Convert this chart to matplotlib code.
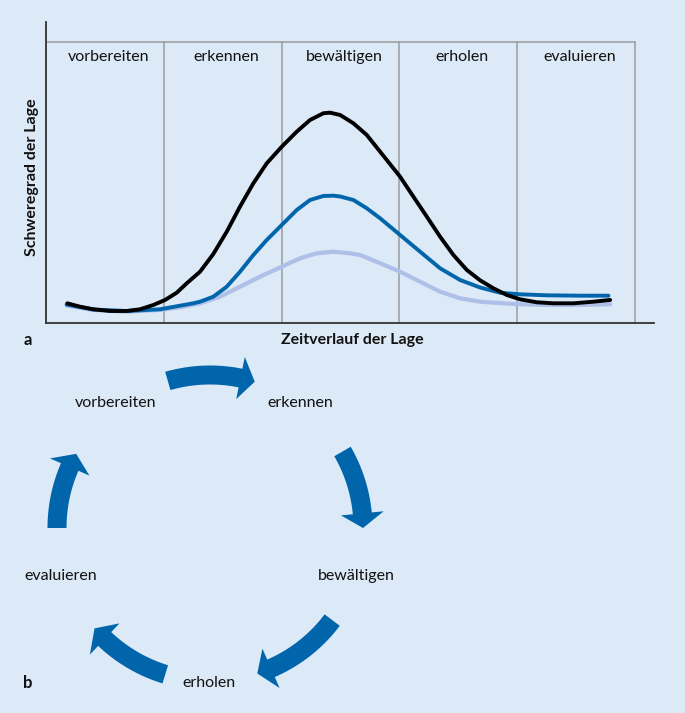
import numpy as np
import matplotlib
matplotlib.use("Agg")
import matplotlib.pyplot as plt
from matplotlib.patches import Polygon

# ---------------- data ----------------
phases = ["vorbereiten", "erkennen", "bewältigen", "erholen", "evaluieren"]

# time axis: 0..100 over the five phases; severity: 0..100 (top of box)
t_black = [3.62, 5.77, 8.03, 10.87, 13.70, 15.96, 18.22, 20.20, 22.19, 23.89,
           26.15, 28.40, 30.68, 32.94, 35.20, 37.47, 40.02, 42.56, 44.82, 47.08,
           48.22, 49.92, 52.17, 54.45, 56.71, 60.10, 62.36, 64.64, 66.89, 69.15,
           71.43, 73.68, 75.94, 78.22, 80.48, 83.31, 86.13, 89.52, 92.92, 95.76]
sev_black = [7.01, 5.80, 4.88, 4.27, 4.27, 4.88, 6.41, 8.19, 10.78, 14.13,
             18.26, 24.56, 32.49, 41.46, 49.72, 56.83, 62.74, 68.08, 72.24, 74.63,
             74.84, 74.02, 71.07, 66.90, 60.96, 52.06, 44.95, 37.83, 30.71, 24.20,
             18.86, 15.20, 12.35, 9.96, 8.43, 7.37, 7.01, 7.01, 7.58, 8.19]

t_blue = [3.51, 8.03, 13.70, 19.35, 25.01, 26.15, 28.40, 30.68, 32.94, 35.20,
          37.47, 40.02, 42.56, 44.82, 47.08, 48.78, 49.92, 52.17, 54.45, 56.71,
          60.10, 63.50, 66.89, 70.29, 73.68, 77.08, 80.48, 85.01, 90.66, 95.47]
sev_blue = [6.58, 4.80, 4.27, 4.88, 7.01, 7.58, 9.36, 12.92, 18.26, 24.20,
            29.54, 34.88, 40.21, 43.77, 45.20, 45.30, 45.02, 43.77, 40.82, 37.26,
            31.32, 25.37, 19.47, 15.30, 12.63, 10.78, 10.21, 9.86, 9.72, 9.72]

t_light = [3.51, 8.03, 13.70, 19.35, 22.75, 26.15, 29.54, 32.94, 36.33, 40.02,
           43.12, 45.96, 48.78, 51.61, 53.31, 56.71, 60.10, 63.50, 66.89, 70.29,
           73.68, 79.34, 85.01, 90.66, 95.76]
sev_light = [6.23, 4.63, 4.02, 4.63, 5.59, 7.01, 9.36, 12.92, 16.48, 20.04,
             23.02, 24.80, 25.37, 24.80, 24.20, 21.25, 18.26, 14.70, 11.14, 8.79,
             7.58, 6.76, 6.41, 6.41, 6.65]

# cycle arrows (angles in degrees, tail -> tip)
arrow_tail = [106, 30, -37, -107, 180]
arrow_tip = [73, 0, -72, -139, 151]

# ---------------- style ----------------
BG = "#DCE9F7"
BLUE = "#0065AB"
LIGHT = "#AEBFE8"
GRID = "#9C9C9C"
TXT = "#111111"
FONT = ["Lato", "DejaVu Sans"]
plt.rcParams["font.family"] = FONT
FS = 11.5

W, H = 685, 713
fig = plt.figure(figsize=(W / 100, H / 100), dpi=100, facecolor=BG)

# ---------------- panel a ----------------
ax = fig.add_axes([46 / W, 1 - 323 / H, 608 / W, 301 / H])
ax.set_facecolor(BG)
ax.set_xlim(0, 103.2)
ax.set_ylim(0, 107.1)
for s in ["top", "right"]:
    ax.spines[s].set_visible(False)
for s in ["left", "bottom"]:
    ax.spines[s].set_color("#333333")
    ax.spines[s].set_linewidth(1.3)
ax.set_xticks([])
ax.set_yticks([])

ax.plot([0, 100], [100, 100], color=GRID, lw=1.1, zorder=1)
for i in range(1, 6):
    ax.plot([20 * i, 20 * i], [0, 100], color=GRID, lw=1.1, zorder=1)
for i, p in enumerate(phases):
    ax.text(20 * i + 10.6, 94.6, p, ha="center", va="center", fontsize=FS,
            color=TXT)

ax.plot(t_light, sev_light, color=LIGHT, lw=3.0, zorder=2,
        solid_joinstyle="round", solid_capstyle="round")
ax.plot(t_blue, sev_blue, color=BLUE, lw=2.8, zorder=3,
        solid_joinstyle="round", solid_capstyle="round")
ax.plot(t_black, sev_black, color="black", lw=2.8, zorder=4,
        solid_joinstyle="round", solid_capstyle="round")

fig.text(32 / W, 1 - 177 / H, "Schweregrad der Lage", rotation=90,
         ha="center", va="center", fontsize=FS, fontweight="bold", color=TXT)
fig.text(352 / W, 1 - 340 / H, "Zeitverlauf der Lage", ha="center",
         va="center", fontsize=FS, fontweight="bold", color=TXT)
fig.text(28 / W, 1 - 340 / H, "a", ha="center", va="center", fontsize=12,
         fontweight="bold", color=TXT)

# ---------------- panel b ----------------
ax2 = fig.add_axes([0, 0, 1, 1], zorder=-1)
ax2.set_xlim(0, W)
ax2.set_ylim(H, 0)
ax2.axis("off")

cx, cy, R = 210, 528, 153
bw, hw, hlen = 19, 21.5, 5.5


def pt(r, a):
    a = np.deg2rad(a)
    return (cx + r * np.cos(a), cy - r * np.sin(a))


for a0, a1 in zip(arrow_tail, arrow_tip):
    sgn = np.sign(a1 - a0)
    ab = a1 - sgn * hlen
    arc = np.linspace(a0, ab, 40)
    outer = [pt(R + bw / 2, a) for a in arc]
    inner = [pt(R - bw / 2, a) for a in arc[::-1]]
    verts = outer + [pt(R + hw, ab), pt(R, a1), pt(R - hw, ab)] + inner
    ax2.add_patch(Polygon(verts, closed=True, facecolor=BLUE, edgecolor="none"))

label_pos = [(116, 403), (300, 403), (356, 576), (209, 683), (61, 576)]
for p, (x, y) in zip(phases, label_pos):
    ax2.text(x, y, p, ha="center", va="center", fontsize=FS, color=TXT)
ax2.text(28, 683, "b", ha="center", va="center", fontsize=12,
         fontweight="bold", color=TXT)

fig.savefig("out.png", dpi=100, facecolor=BG)
